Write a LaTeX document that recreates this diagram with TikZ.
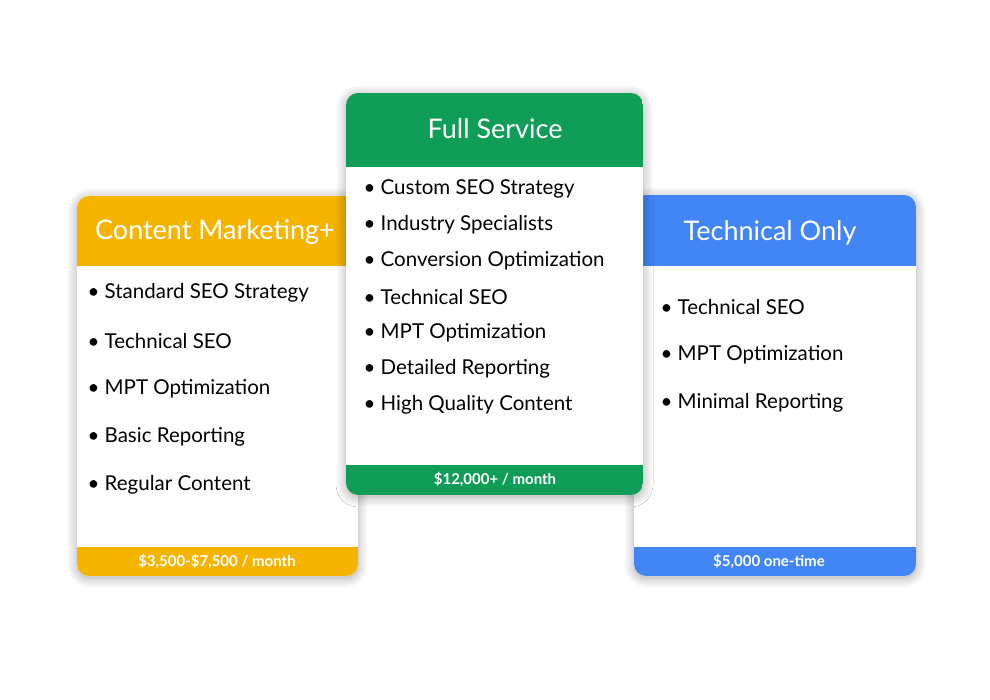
\documentclass[tikz,border=0pt]{standalone}
\usepackage{fontspec}
\setmainfont{Lato}
\usetikzlibrary{shadows.blur}
\definecolor{gorange}{HTML}{F4B400}
\definecolor{ggreen}{HTML}{0F9D58}
\definecolor{gblue}{HTML}{4285F4}
\tikzset{
  card/.style={fill=white,rounded corners=12pt,blur shadow={shadow xshift=0pt,shadow yshift=-2pt,shadow blur steps=10,shadow blur radius=10pt,shadow opacity=35}},
  head/.style={text=white,font=\fontsize{27}{30}\selectfont,anchor=center},
  item/.style={anchor=west,font=\fontsize{20.5}{24}\selectfont},
  foot/.style={text=white,font=\fontsize{15}{18}\selectfont\bfseries,anchor=center}
}
\newcommand{\mycard}[8]{%
  % #1 name #2 x0 #3 y0 #4 x1 #5 y1 #6 header bottom #7 footer top #8 color
  \path[card] (#2,#3) rectangle (#4,#5);
  \begin{scope}
    \clip[rounded corners=12pt] (#2,#3) rectangle (#4,#5);
    \fill[#8] (#2,#3) rectangle (#4,#6);
    \fill[#8] (#2,#7) rectangle (#4,#5);
  \end{scope}
}
\begin{document}
\begin{tikzpicture}[x=1pt,y=-1pt]
\useasboundingbox (0,0) rectangle (990,700);
% left
\mycard{l}{77}{196}{358}{576}{266}{547}{gorange}
\node[head] (lh) at (215,232) {Content Marketing+};
\node[foot] (lf) at (217,561) {\$3,500-\$7,500 / month};
\foreach \t [count=\i] in {Standard SEO Strategy,Technical SEO,MPT Optimization,Basic Reporting,Regular Content}
  \node[item] (l\i) at (84,245+48*\i) {• \t};
% right
\mycard{r}{634}{195}{916}{576}{266}{547}{gblue}
\node[head] (rh) at (770,233) {Technical Only};
\node[foot] (rf) at (769,561) {\$5,000 one-time};
\foreach \t [count=\i] in {Technical SEO,MPT Optimization,Minimal Reporting}
  \node[item] (r\i) at (657,259+48*\i) {• \t};
% middle
\mycard{m}{346}{93}{643}{495}{167}{465}{ggreen}
\node[head] (mh) at (495,129) {Full Service};
\node[foot] (mf) at (495,479) {\$12,000+ / month};
\foreach \t [count=\i] in {Custom SEO Strategy,Industry Specialists,Conversion Optimization,Technical SEO,MPT Optimization,Detailed Reporting,High Quality Content}
  \node[item] (m\i) at (360,153+36*\i) {• \t};
\end{tikzpicture}
\end{document}
